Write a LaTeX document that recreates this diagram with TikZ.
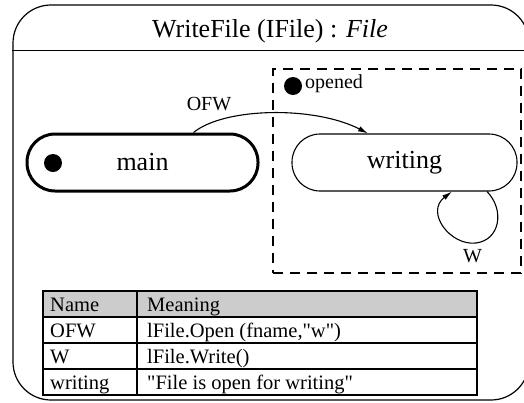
\documentclass[tikz,border=0pt]{standalone}
\usepackage{fontspec}
\setmainfont{Liberation Serif}[Ligatures=TeXOff]
\usetikzlibrary{arrows.meta,calc}
\begin{document}
\begin{tikzpicture}[x=1pt,y=-1pt,
  statebox/.style={draw, rounded corners=28pt, minimum height=57pt, inner sep=0pt,
    font=\fontsize{26}{30}\selectfont},
  initdot/.style={circle, fill=black, minimum size=18pt, inner sep=0pt},
  lbl/.style={inner sep=0pt, font=\fontsize{20}{24}\selectfont},
  cell/.style={inner sep=0pt, anchor=base west, font=\fontsize{20.5}{24}\selectfont},
  trans/.style={line width=1.1pt, -{Latex[length=10pt,width=5.5pt]}},
  tline/.style={line width=1.2pt}
]
\useasboundingbox (0,0) rectangle (524,402);
\clip (0,0) rectangle (524,402);

% outer frame of the class
\node[draw, line width=1.2pt, rounded corners=38pt, minimum width=516pt, minimum height=395pt,
      inner sep=0pt] (file) at (271,202.5) {};
\draw[line width=1.2pt] ($(file.north west)+(0,46)$) -- ($(file.north east)+(0,46)$);
\node[inner sep=0pt, anchor=base, font=\fontsize{26}{30}\selectfont] (title) at (270,37)
  {WriteFile (IFile) : \textit{File}};

% composite region "opened"
\node[draw, dashed, dash pattern=on 10pt off 7pt, line width=1.1pt,
      minimum width=248pt, minimum height=204pt, inner sep=0pt] (opened) at (397,171) {};
\node[initdot] (odot) at (293,86) {};
\node[lbl, anchor=base west] (oname) at (305,88) {opened};

% states
\node[statebox, line width=3pt, minimum width=231pt] (main) at (142.5,162.5) {main};
\node[initdot] (mdot) at (53,163) {};
\node[statebox, line width=1.1pt, minimum width=225pt] (writing) at (404.5,162.5) {writing};

% transitions
\draw[trans] ([xshift=51pt]main.north) .. controls (225,107) and (315,106) ..
  ([xshift=-36.5pt]writing.north);
\node[lbl, anchor=base] (ofw) at (209,110) {OFW};

\draw[trans] ([xshift=82.5pt]writing.south) .. controls (505,210) and (500,240) .. (476,243)
  .. controls (450,246) and (425,212) .. ([xshift=47.5pt]writing.south);
\node[lbl, anchor=base] (w) at (472.5,262) {W};

% legend table
\fill[gray!40] (43,291) rectangle (477,317);
\draw[tline] (43,291) rectangle (477,395);
\foreach \yy in {317,343,369} \draw[tline] (43,\yy) -- (477,\yy);
\draw[tline] (137,291) -- (137,395);

\node[cell] (h1) at (50,311) {Name};
\node[cell] (h2) at (147,311) {Meaning};
\node[cell] (r1a) at (50,337) {OFW};
\node[cell] (r1b) at (147,337) {lFile.Open (fname,"w")};
\node[cell] (r2a) at (50,363) {W};
\node[cell] (r2b) at (147,363) {lFile.Write()};
\node[cell] (r3a) at (50,389) {writing};
\node[cell] (r3b) at (147,389) {"File is open for writing"};
\end{tikzpicture}
\end{document}
